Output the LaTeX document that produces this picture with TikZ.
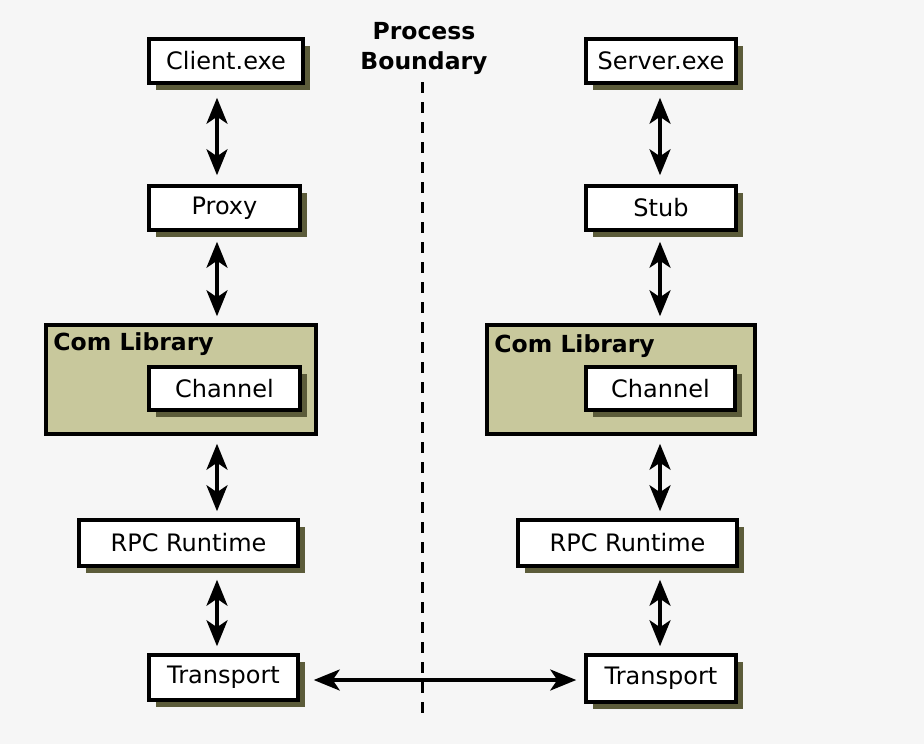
\documentclass[tikz,border=0pt]{standalone}
\usepackage{fontspec}
\setmainfont{DejaVu Sans}
\usetikzlibrary{arrows.meta,calc}
\definecolor{shadowc}{RGB}{92,92,58}
\definecolor{comfill}{RGB}{200,200,156}
\definecolor{bgc}{RGB}{246,246,246}
\begin{document}
\begin{tikzpicture}[x=1pt,y=-1pt,
  box/.style={draw=black,line width=3.5pt,fill=white,minimum height=44pt,inner sep=0pt,
    font=\fontsize{24}{28}\selectfont,
    preaction={fill=shadowc,transform canvas={shift={(7pt,-7pt)}}}},
  lib/.style={draw=black,line width=3.5pt,fill=comfill,inner sep=0pt},
  arr/.style={line width=3.5pt,{Stealth[length=26pt,width=21pt,inset=7pt]}-{Stealth[length=26pt,width=21pt,inset=7pt]}},
  lbl/.style={font=\bfseries\fontsize{23.5}{30}\selectfont,inner sep=0pt}]
\useasboundingbox[fill=bgc] (0,0) rectangle (924,744);
% left column
\node[box,minimum width=154pt] (client) at (226,61) {Client.exe};
\node[box,minimum width=151pt] (proxy) at (224.5,208) {Proxy};
\node[lib,minimum width=270pt,minimum height=109pt] (coml) at (181,379.5) {};
\node[lbl,anchor=north west] (coml-t) at ($(coml.north west)+(9,9)$) {Com Library};
\node[box,minimum width=151pt,minimum height=43pt] (chanl) at (224.5,388.5) {Channel};
\node[box,minimum width=219pt,minimum height=46pt] (rpcl) at (188.5,543) {RPC Runtime};
\node[box,minimum width=149pt,minimum height=45pt] (transl) at (223.5,677.5) {Transport};
% right column
\node[box,minimum width=150pt] (server) at (661,61) {Server.exe};
\node[box,minimum width=150pt] (stub) at (661,208) {Stub};
\node[lib,minimum width=268pt,minimum height=109pt] (comr) at (621,379.5) {};
\node[lbl,anchor=north west] (comr-t) at ($(comr.north west)+(9,11)$) {Com Library};
\node[box,minimum width=149pt,minimum height=43pt] (chanr) at (660.5,388.5) {Channel};
\node[box,minimum width=219pt,minimum height=46pt] (rpcr) at (627.5,543) {RPC Runtime};
\node[box,minimum width=150pt,minimum height=47pt] (transr) at (661,678.5) {Transport};
% boundary
\node[lbl,align=center] (pb) at (424,48) {Process\\Boundary};
\coordinate (bt) at (422,82);
\coordinate (bb) at (422,716);
\draw[line width=3pt,dash pattern=on 11pt off 9pt] (bt) -- (bb);
% axes
\coordinate (axl) at (217,0);
\coordinate (axr) at (660,0);
\draw[arr] ($(client.south -| axl)+(0,13)$) -- ($(proxy.north -| axl)+(0,-9)$);
\draw[arr] ($(proxy.south -| axl)+(0,10)$) -- ($(coml.north -| axl)+(0,-7)$);
\draw[arr] ($(coml.south -| axl)+(0,8)$) -- ($(rpcl.north -| axl)+(0,-7)$);
\draw[arr] ($(rpcl.south -| axl)+(0,12)$) -- ($(transl.north -| axl)+(0,-7)$);
\draw[arr] ($(server.south -| axr)+(0,13)$) -- ($(stub.north -| axr)+(0,-9)$);
\draw[arr] ($(stub.south -| axr)+(0,10)$) -- ($(comr.north -| axr)+(0,-7)$);
\draw[arr] ($(comr.south -| axr)+(0,8)$) -- ($(rpcr.north -| axr)+(0,-7)$);
\draw[arr] ($(rpcr.south -| axr)+(0,12)$) -- ($(transr.north -| axr)+(0,-7)$);
\draw[arr] ($(transl.east)+(14,2.5)$) -- ($(transr.west |- transl.east)+(-8,2.5)$);
\end{tikzpicture}
\end{document}
